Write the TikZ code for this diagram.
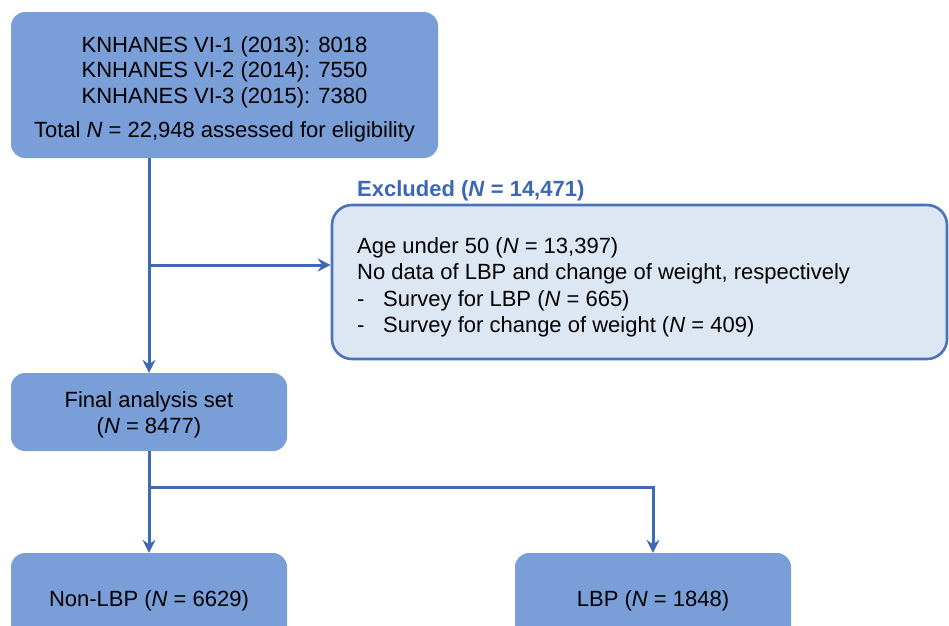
\documentclass[tikz,border=0pt]{standalone}
\usepackage{fontspec}
\setmainfont{Liberation Sans}
\usetikzlibrary{arrows.meta}
\definecolor{boxfill}{HTML}{7A9ED7}
\definecolor{linecol}{HTML}{3E6AB3}
\definecolor{exfill}{HTML}{DDE7F4}
\definecolor{exline}{HTML}{4A73BA}
\definecolor{exlabel}{HTML}{3B68B5}
\begin{document}
\begin{tikzpicture}[x=1pt,y=-1pt,
  mainbox/.style={draw=none, fill=boxfill, rounded corners=14pt, inner sep=0pt},
  exbox/.style={draw=exline, line width=2.6pt, fill=exfill, rounded corners=20pt, inner sep=0pt},
  txt/.style={inner sep=0pt, font=\fontsize{22}{26}\selectfont, text=black},
  conn/.style={draw=linecol, line width=3pt},
  arr/.style={conn, -{Stealth[length=13pt,width=13pt,inset=4.5pt]}}]
\clip (0,0) rectangle (949,625);
\fill[white] (0,0) rectangle (949,625);
% boxes
\node[mainbox, minimum width=427pt, minimum height=146pt] (src) at (224.5,85) {};
\node[exbox, minimum width=615pt, minimum height=154pt] (excl) at (639.5,282) {};
\node[mainbox, minimum width=276pt, minimum height=78pt] (final) at (149,412) {};
\node[mainbox, minimum width=276pt, minimum height=87pt] (nonlbp) at (149,596.5) {};
\node[mainbox, minimum width=276pt, minimum height=87pt] (lbp) at (653,596.5) {};
% texts
\node[txt, anchor=base] (t1) at (224.5,52) {KNHANES VI-1 (2013): 8018};
\node[txt, anchor=base] (t2) at (224.5,77) {KNHANES VI-2 (2014): 7550};
\node[txt, anchor=base] (t3) at (224.5,103) {KNHANES VI-3 (2015): 7380};
\node[txt, anchor=base] (t4) at (224.5,137) {Total \textit{N} = 22,948 assessed for eligibility};
\node[txt, anchor=base west, text=exlabel, font=\fontsize{22}{26}\selectfont\bfseries] (exl) at (357,196) {Excluded (\textit{N} = 14,471)};
\node[txt, anchor=base west] (e1) at (357,253) {Age under 50 (\textit{N} = 13,397)};
\node[txt, anchor=base west] (e2) at (357,279) {No data of LBP and change of weight, respectively};
\node[txt, anchor=base west] (e3) at (357,306) {\makebox[26pt][l]{-}Survey for LBP (\textit{N} = 665)};
\node[txt, anchor=base west] (e4) at (357,332) {\makebox[26pt][l]{-}Survey for change of weight (\textit{N} = 409)};
\node[txt, anchor=base] (f1) at (149,407) {Final analysis set};
\node[txt, anchor=base] (f2) at (149,433) {(\textit{N} = 8477)};
\node[txt, anchor=base] (n1) at (149,606) {Non-LBP (\textit{N} = 6629)};
\node[txt, anchor=base] (l1) at (653,606) {LBP (\textit{N} = 1848)};
% connectors
\coordinate (top) at (final.north |- src.south);
\coordinate (j1) at (149,265);
\coordinate (j2) at (149,487);
\draw[arr] (top) -- (final.north);
\draw[arr] (j1) -- (j1 -| excl.west);
\draw[conn] (final.south) -- (j2);
\draw[arr] (j2) -- (nonlbp.north);
\draw[arr] (j2) -| (lbp.north);
\end{tikzpicture}
\end{document}
